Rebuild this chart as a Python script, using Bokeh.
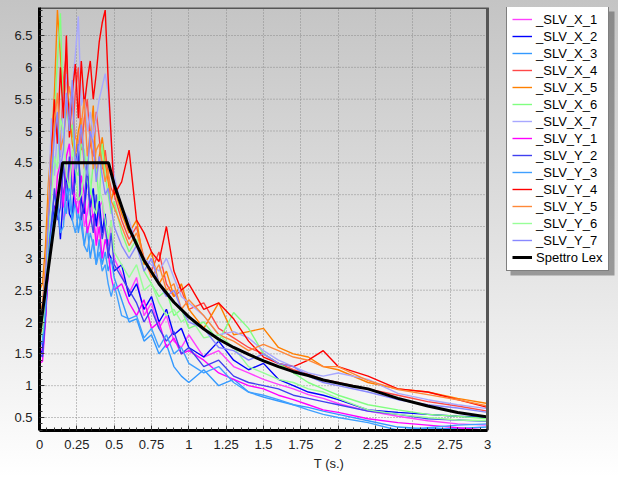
from bokeh.plotting import figure
from bokeh.models import (Legend, LegendItem, NumeralTickFormatter, SingleIntervalTicker,
                          Range1d, FixedTicker, BoxAnnotation)
from bokeh.embed import file_html
from bokeh.resources import INLINE

# Periods (s)
T = [0.00, 0.02, 0.04, 0.06, 0.08, 0.10, 0.12, 0.14, 0.16, 0.18,
     0.20, 0.22, 0.24, 0.26, 0.28, 0.30, 0.32, 0.34, 0.36, 0.38,
     0.40, 0.42, 0.44, 0.46, 0.48, 0.50, 0.55, 0.60, 0.65, 0.70,
     0.75, 0.80, 0.85, 0.90, 0.95, 1.00, 1.10, 1.20, 1.30, 1.40,
     1.50, 1.60, 1.70, 1.80, 1.90, 2.00, 2.20, 2.40, 2.60, 2.80,
     3.00]

SLV_X_1 = [1.40, 1.62, 2.30, 3.10, 3.55, 3.70, 3.95, 4.20, 3.60, 3.75,
           4.40, 4.60, 3.80, 3.95, 4.10, 3.50, 3.70, 4.00, 3.60, 3.30,
           3.80, 3.90, 3.40, 3.20, 3.60, 3.00, 2.75, 2.45, 2.70, 2.10,
           2.30, 1.90, 2.10, 1.70, 1.60, 1.80, 1.45, 1.55, 1.30, 1.20,
           1.10, 1.02, 0.95, 0.86, 0.80, 0.72, 0.60, 0.52, 0.45, 0.40,
           0.38]
SLV_X_2 = [1.50, 1.55, 2.10, 2.90, 3.40, 3.80, 3.90, 3.30, 4.00, 4.30,
           3.70, 3.60, 4.50, 4.70, 3.90, 3.70, 4.30, 3.80, 4.10, 3.50,
           3.90, 3.40, 3.70, 3.10, 3.00, 2.80, 2.90, 2.40, 2.60, 2.20,
           2.40, 2.00, 2.20, 1.80, 1.90, 1.60, 1.45, 1.70, 1.40, 1.25,
           1.35, 1.10, 1.00, 0.90, 0.85, 0.78, 0.62, 0.58, 0.55, 0.52,
           0.50]
SLV_X_3 = [1.60, 1.70, 2.40, 3.20, 3.60, 4.00, 3.80, 4.40, 3.90, 3.70,
           4.20, 3.60, 3.90, 3.40, 3.70, 3.20, 3.50, 3.00, 3.30, 2.90,
           3.30, 2.90, 3.10, 2.80, 3.00, 2.70, 2.35, 2.00, 2.05, 1.70,
           1.80, 1.50, 1.65, 1.30, 1.15, 1.05, 1.25, 1.00, 1.10, 0.90,
           0.82, 0.76, 0.70, 0.66, 0.60, 0.55, 0.45, 0.35, 0.32, 0.33,
           0.35]
SLV_X_4 = [1.70, 1.90, 2.60, 3.50, 4.20, 5.40, 5.00, 4.60, 5.80, 6.20,
           5.10, 4.90, 5.60, 6.00, 4.70, 5.20, 5.50, 4.80, 4.60, 5.30,
           4.90, 4.40, 4.70, 4.30, 4.10, 4.00, 3.60, 3.30, 3.50, 3.00,
           2.80, 3.10, 2.60, 2.40, 2.50, 2.20, 2.30, 1.90, 1.75, 1.60,
           1.50, 1.35, 1.25, 1.18, 1.10, 1.05, 0.95, 0.85, 0.75, 0.68,
           0.60]
SLV_X_5 = [2.50, 2.60, 3.20, 4.20, 4.80, 5.60, 6.90, 6.20, 5.40, 5.90,
           5.30, 4.80, 4.60, 5.00, 5.20, 4.40, 4.50, 4.90, 5.40, 4.30,
           4.60, 4.90, 4.50, 4.20, 3.90, 4.10, 3.70, 3.40, 3.60, 2.90,
           3.10, 2.60, 2.80, 2.40, 2.60, 2.20, 1.90, 2.30, 1.80, 1.85,
           1.90, 1.60, 1.50, 1.45, 1.30, 1.25, 1.05, 0.95, 0.90, 0.80,
           0.72]
SLV_X_6 = [1.80, 2.00, 2.80, 3.70, 4.50, 5.30, 6.10, 6.85, 5.20, 5.40,
           5.00, 5.10, 4.40, 4.30, 4.80, 4.70, 4.20, 4.00, 4.50, 4.40,
           3.90, 4.80, 4.30, 4.00, 3.70, 3.90, 3.40, 3.10, 3.30, 2.80,
           2.60, 2.40, 2.50, 2.10, 2.20, 1.90, 2.00, 1.70, 2.15, 1.90,
           1.50, 1.35, 1.20, 1.05, 0.95, 0.85, 0.70, 0.62, 0.55, 0.52,
           0.48]
SLV_X_7 = [1.70, 1.90, 2.60, 3.80, 5.20, 4.30, 5.00, 4.60, 5.50, 5.90,
           5.20, 5.70, 6.20, 6.80, 5.40, 5.60, 5.00, 5.30, 4.90, 5.20,
           5.50, 5.70, 5.90, 5.60, 4.80, 4.30, 3.80, 3.60, 3.20, 3.00,
           2.90, 2.80, 3.00, 2.70, 2.40, 2.30, 2.10, 1.80, 1.85, 1.75,
           1.55, 1.40, 1.30, 1.20, 1.15, 1.20, 1.10, 0.88, 0.78, 0.70,
           0.64]
SLV_Y_1 = [1.35, 1.38, 2.00, 2.90, 3.50, 3.60, 4.30, 4.50, 3.80, 4.60,
           4.80, 4.10, 3.90, 3.70, 4.30, 4.00, 3.40, 3.60, 3.70, 3.20,
           3.50, 3.00, 3.30, 3.10, 2.70, 2.50, 2.60, 2.30, 2.10, 2.35,
           1.90, 2.00, 1.60, 1.75, 1.50, 1.55, 1.40, 1.20, 1.10, 1.00,
           0.95, 0.85, 0.78, 0.70, 0.62, 0.58, 0.48, 0.42, 0.38, 0.34,
           0.30]
SLV_Y_2 = [1.50, 1.45, 2.10, 3.00, 3.50, 4.10, 3.60, 3.80, 4.50, 3.90,
           4.60, 4.00, 4.20, 4.80, 3.60, 3.90, 4.50, 3.70, 3.40, 4.00,
           3.70, 3.30, 3.60, 3.00, 3.40, 2.90, 2.70, 2.50, 2.30, 2.00,
           2.20, 1.90, 1.70, 1.85, 1.50, 1.60, 1.30, 1.40, 1.15, 1.05,
           1.00, 0.95, 0.85, 0.80, 0.75, 0.70, 0.60, 0.55, 0.48, 0.46,
           0.44]
SLV_Y_3 = [1.65, 1.70, 2.20, 3.00, 3.40, 3.70, 3.90, 3.40, 3.50, 4.10,
           3.90, 3.60, 3.40, 3.70, 3.50, 3.20, 3.10, 3.40, 3.20, 2.90,
           3.10, 2.80, 2.90, 2.60, 2.40, 2.60, 2.10, 2.05, 2.10, 1.75,
           1.90, 1.60, 1.80, 1.50, 1.60, 1.35, 1.20, 1.30, 1.05, 0.90,
           0.85, 0.78, 0.70, 0.62, 0.55, 0.50, 0.42, 0.30, 0.34, 0.38,
           0.40]
SLV_Y_4 = [1.75, 1.95, 2.50, 3.50, 4.60, 5.50, 4.80, 6.00, 5.20, 6.50,
           4.90, 5.60, 6.05, 5.20, 6.10, 5.40, 5.80, 6.10, 5.50, 5.90,
           6.40, 6.70, 6.90, 5.80, 4.90, 4.00, 4.20, 4.70, 3.60, 3.40,
           3.10, 2.95, 3.50, 2.80, 2.50, 2.60, 2.20, 2.30, 2.05, 1.70,
           1.45, 1.35, 1.30, 1.40, 1.55, 1.30, 1.15, 0.95, 0.90, 0.78,
           0.66]
SLV_Y_5 = [2.10, 2.30, 2.90, 3.80, 4.50, 5.10, 5.60, 4.70, 4.90, 5.30,
           5.70, 5.40, 4.90, 4.80, 5.10, 5.50, 4.60, 5.00, 4.40, 4.70,
           4.80, 4.50, 4.20, 4.40, 3.90, 3.80, 3.50, 3.20, 3.40, 3.00,
           2.70, 2.90, 2.50, 2.60, 2.20, 2.35, 2.10, 1.80, 1.70, 1.55,
           1.65, 1.55, 1.45, 1.40, 1.30, 1.30, 1.08, 0.94, 0.86, 0.78,
           0.68]
SLV_Y_6 = [1.70, 1.85, 2.50, 3.40, 4.00, 4.60, 4.40, 5.20, 5.00, 4.30,
           4.10, 4.70, 4.50, 3.90, 4.00, 4.40, 4.60, 4.20, 3.80, 3.70,
           4.10, 3.90, 3.60, 3.30, 3.60, 3.10, 2.90, 2.70, 2.90, 2.50,
           2.60, 2.30, 2.10, 2.20, 2.00, 2.10, 1.75, 1.80, 1.60, 1.30,
           1.20, 1.10, 1.05, 0.95, 0.90, 0.80, 0.62, 0.55, 0.50, 0.46,
           0.45]
SLV_Y_7 = [1.90, 2.10, 2.70, 3.60, 4.30, 4.90, 5.30, 4.40, 4.70, 5.60,
           5.00, 5.80, 4.40, 4.70, 5.10, 4.50, 4.30, 5.00, 4.80, 4.20,
           4.60, 4.30, 4.00, 4.10, 3.80, 3.50, 3.20, 3.00, 3.20, 2.80,
           3.00, 2.60, 2.40, 2.50, 2.20, 2.00, 1.90, 1.60, 1.55, 1.40,
           1.50, 1.35, 1.30, 1.15, 1.05, 1.00, 0.90, 0.78, 0.70, 0.65,
           0.58]

# Code spectrum ("Spettro Lex")
LEX_T = [0.0, 0.154, 0.462, 0.5, 0.6, 0.7, 0.8, 0.9, 1.0, 1.1, 1.2, 1.3, 1.4,
         1.5, 1.6, 1.7, 1.8, 1.9, 2.0, 2.1, 2.2, 2.4, 2.6, 2.8, 3.0]
LEX_SA = [1.80, 4.50, 4.50, 4.16, 3.47, 2.97, 2.60, 2.31, 2.08, 1.89, 1.73, 1.60, 1.49,
          1.39, 1.30, 1.22, 1.16, 1.09, 1.04, 0.99, 0.95, 0.80, 0.68, 0.58, 0.51]

NAMES = ["_SLV_X_1", "_SLV_X_2", "_SLV_X_3", "_SLV_X_4", "_SLV_X_5", "_SLV_X_6", "_SLV_X_7",
         "_SLV_Y_1", "_SLV_Y_2", "_SLV_Y_3", "_SLV_Y_4", "_SLV_Y_5", "_SLV_Y_6", "_SLV_Y_7"]
SERIES = [SLV_X_1, SLV_X_2, SLV_X_3, SLV_X_4, SLV_X_5, SLV_X_6, SLV_X_7,
          SLV_Y_1, SLV_Y_2, SLV_Y_3, SLV_Y_4, SLV_Y_5, SLV_Y_6, SLV_Y_7]
COLORS = ["#FF40FF", "#0000FF", "#3399FF", "#FF4848", "#FF8000", "#80FF80", "#A8A8FF",
          "#FF00FF", "#4040F0", "#40A0FF", "#FF0000", "#FF8838", "#98FF98", "#8888FF"]

# axis ticks
X_TICKS = [0, 0.25, 0.5, 0.75, 1, 1.25, 1.5, 1.75, 2, 2.25, 2.5, 2.75, 3]
X_MINOR = [i * 0.05 for i in range(61)]
Y_TICKS = [0.5, 1, 1.5, 2, 2.5, 3, 3.5, 4, 4.5, 5, 5.5, 6, 6.5]
X_MIN, X_MAX = 0.0, 3.0
Y_MIN, Y_MAX = 0.296, 6.94

FONT = "Liberation Sans"
LEFT, TOP, BOTTOM = 39, 7, 47
PLOT_W = 448            # pixel width of the 0..3 data area
FRAME_W = 618 - LEFT    # frame continues under the legend
FRAME_H = 477 - TOP - BOTTOM
x_end = X_MAX + (FRAME_W - PLOT_W) * (X_MAX - X_MIN) / PLOT_W

p = figure(frame_width=FRAME_W, frame_height=FRAME_H, output_backend="svg", toolbar_location=None,
           x_range=Range1d(X_MIN, x_end), y_range=Range1d(Y_MIN, Y_MAX),
           min_border_left=LEFT, min_border_right=0, min_border_top=TOP, min_border_bottom=BOTTOM)
p.styles = {"background": "linear-gradient(to bottom, #c4c4c4 0%, #e8e8e8 62%, #ffffff 100%)"}
p.border_fill_alpha = 0
p.background_fill_alpha = 0
p.outline_line_color = None

# grid: vertical via xgrid, horizontal drawn within the data area only
p.ygrid.visible = False
p.xgrid.grid_line_color = "#8a8a8a"
p.xgrid.grid_line_dash = "1 2"
p.segment(x0=[X_MIN] * len(Y_TICKS), x1=[X_MAX] * len(Y_TICKS), y0=Y_TICKS, y1=Y_TICKS,
          line_color="#8a8a8a", line_dash="1 2", line_width=1)

items = []
for name, ys, col in zip(NAMES, SERIES, COLORS):
    r = p.line(T, ys, line_color=col, line_width=1.4)
    items.append(LegendItem(label=name, renderers=[r]))
r_lex = p.line(LEX_T, LEX_SA, line_color="black", line_width=3)
items.append(LegendItem(label="Spettro Lex", renderers=[r_lex]))

# top and right border of the data area
p.line(x=[X_MIN, X_MAX, X_MAX], y=[Y_MAX, Y_MAX, Y_MIN], line_color="#555555", line_width=3)

# axes
p.xaxis.ticker = FixedTicker(ticks=X_TICKS, minor_ticks=X_MINOR)
p.xaxis.bounds = (X_MIN, X_MAX)
p.yaxis.ticker = SingleIntervalTicker(interval=0.5, num_minor_ticks=5)
p.xaxis.formatter = NumeralTickFormatter(format="0.[00]")
p.yaxis.formatter = NumeralTickFormatter(format="0.[00]")
for ax in (p.xaxis[0], p.yaxis[0]):
    ax.axis_line_width = 3
    ax.axis_line_color = "black"
    ax.major_tick_in = 5
    ax.major_tick_out = 0
    ax.minor_tick_in = 3
    ax.minor_tick_out = 0
    ax.major_tick_line_color = "#333333"
    ax.minor_tick_line_color = "#333333"
    ax.major_label_text_font = FONT
    ax.major_label_text_font_size = "13px"
    ax.major_label_text_color = "#222222"
    ax.axis_label_text_font = FONT
    ax.axis_label_text_font_size = "13px"
    ax.axis_label_text_font_style = "normal"
    ax.axis_label_text_color = "#222222"
p.xaxis.axis_label = "T (s.)"
p.xaxis.major_label_standoff = 9
p.xaxis.axis_label_standoff = 4
p.yaxis.major_label_standoff = 7

# legend with a drop shadow (box coordinates are frame pixels, measured from bottom-left)
LEG_PAD, LEG_ROW, LEG_SP = 5, 16, 1
LEG_H = 2 * LEG_PAD + 15 * LEG_ROW + 14 * LEG_SP
LEG_W = 104
LEG_X = 467
SH = 4
shadow = BoxAnnotation(left=LEG_X + SH, right=LEG_X + SH + LEG_W,
                       top=FRAME_H - SH, bottom=FRAME_H - SH - LEG_H,
                       left_units="screen", right_units="screen",
                       top_units="screen", bottom_units="screen",
                       fill_color="#5a5a5a", fill_alpha=0.55, line_alpha=0)
p.add_layout(shadow)

legend = Legend(items=items, location=(LEG_X, FRAME_H - LEG_H), margin=0,
                padding=LEG_PAD, spacing=LEG_SP,
                label_height=LEG_ROW, glyph_height=LEG_ROW, glyph_width=20, label_standoff=4,
                label_text_font=FONT, label_text_font_size="13px", label_text_color="black",
                border_line_color="black", border_line_width=1,
                background_fill_color="white", background_fill_alpha=1)
p.add_layout(legend, "center")

open("out.html", "w").write(file_html(p, INLINE))
